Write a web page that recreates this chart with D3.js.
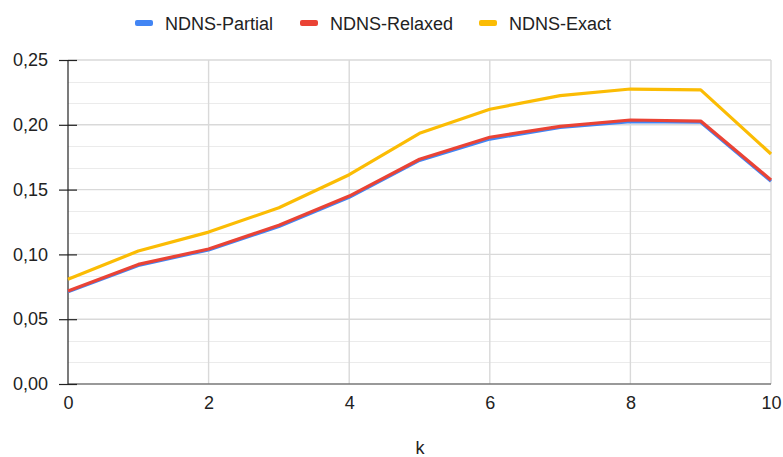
<!DOCTYPE html>
<html>
<head>
<meta charset="utf-8">
<script src="https://cdn.jsdelivr.net/npm/d3@7"></script>
<style>
  html, body { margin: 0; padding: 0; background: #fff; }
  svg { display: block; font-family: "Liberation Sans", Arial, sans-serif; }
</style>
</head>
<body>
<svg id="chart" width="783" height="457"></svg>
<script>
const kValues = [0, 1, 2, 3, 4, 5, 6, 7, 8, 9, 10];
const partial = [0.0712, 0.0915, 0.1035, 0.1215, 0.1440, 0.1725, 0.1890, 0.1980, 0.2025, 0.2020, 0.1565];
const relaxed = [0.0718, 0.0923, 0.1042, 0.1225, 0.1450, 0.1734, 0.1904, 0.1988, 0.2037, 0.2029, 0.1574];
const exact   = [0.0808, 0.1026, 0.1172, 0.1360, 0.1615, 0.1934, 0.2120, 0.2225, 0.2276, 0.2269, 0.1775];
const seriesNames = ["NDNS-Partial", "NDNS-Relaxed", "NDNS-Exact"];
const seriesColors = ["#4285F4", "#EA4335", "#FBBC04"];
const yTicks = [0, 0.05, 0.10, 0.15, 0.20, 0.25];
const xTicks = [0, 2, 4, 6, 8, 10];
const xTitle = "k";

const series = [partial, relaxed, exact];
const svg = d3.select("#chart");
const m = { left: 68, right: 771, top: 60, bottom: 384 };

const x = d3.scaleLinear().domain([0, 10]).range([m.left, m.right]);
const y = d3.scaleLinear().domain([0, 0.25]).range([m.bottom, m.top]);
const fmt = v => d3.format(".2f")(v).replace(".", ",");

// minor horizontal gridlines
const minor = [];
for (let i = 0; i < 15; i++) { if (i % 3 !== 0) minor.push(i * 0.05 / 3); }
svg.append("g").selectAll("line").data(minor).join("line")
  .attr("x1", m.left).attr("x2", m.right)
  .attr("y1", d => Math.round(y(d)) + 0.5).attr("y2", d => Math.round(y(d)) + 0.5)
  .attr("stroke", "#ebebeb").attr("stroke-width", 1.2);

// major horizontal gridlines
svg.append("g").selectAll("line").data(yTicks.slice(1)).join("line")
  .attr("x1", m.left).attr("x2", m.right)
  .attr("y1", d => y(d)).attr("y2", d => y(d))
  .attr("stroke", "#d9d9d9").attr("stroke-width", 1.4);

// vertical gridlines
svg.append("g").selectAll("line").data(xTicks.slice(1)).join("line")
  .attr("x1", d => x(d)).attr("x2", d => x(d))
  .attr("y1", m.top).attr("y2", m.bottom)
  .attr("stroke", "#d9d9d9").attr("stroke-width", 1.4);

// x baseline
svg.append("line")
  .attr("x1", m.left).attr("x2", m.right)
  .attr("y1", m.bottom).attr("y2", m.bottom)
  .attr("stroke", "#777").attr("stroke-width", 1.6);

// y axis with crossing ticks
const yAxis = d3.axisLeft(y).tickValues(yTicks).tickFormat(fmt).tickSize(9).tickPadding(11);
const gy = svg.append("g").attr("transform", `translate(${m.left},0)`).call(yAxis);
gy.select(".domain").remove();
gy.selectAll(".tick line").attr("x1", -9).attr("x2", 9).attr("stroke", "#222").attr("stroke-width", 1.2);
gy.selectAll(".tick text").attr("font-size", 18).attr("fill", "#222")
  .attr("font-family", "'Liberation Sans', Arial, sans-serif");
svg.append("line")
  .attr("x1", m.left).attr("x2", m.left).attr("y1", m.top).attr("y2", m.bottom)
  .attr("stroke", "#222").attr("stroke-width", 1.2);

// x axis labels
const xAxis = d3.axisBottom(x).tickValues(xTicks).tickFormat(d3.format("d")).tickSize(0).tickPadding(12);
const gx = svg.append("g").attr("transform", `translate(0,${m.bottom})`).call(xAxis);
gx.select(".domain").remove();
gx.selectAll(".tick text").attr("font-size", 18).attr("fill", "#222")
  .attr("font-family", "'Liberation Sans', Arial, sans-serif");

svg.append("text").attr("x", 420).attr("y", 454).attr("text-anchor", "middle")
  .attr("font-size", 18).attr("fill", "#222").text(xTitle);

// lines
const line = d3.line().x((d, i) => x(kValues[i])).y(d => y(d));
series.forEach((s, i) => {
  svg.append("path").datum(s)
    .attr("d", line)
    .attr("fill", "none")
    .attr("stroke", seriesColors[i])
    .attr("stroke-width", 3.2)
    .attr("stroke-linejoin", "round");
});

// legend
const legendX = [135, 300, 479];
const lg = svg.append("g");
seriesNames.forEach((n, i) => {
  lg.append("rect").attr("x", legendX[i]).attr("y", 20).attr("width", 18).attr("height", 6)
    .attr("rx", 2).attr("fill", seriesColors[i]);
  lg.append("text").attr("x", legendX[i] + 30).attr("y", 29.5)
    .attr("font-size", 18).attr("fill", "#222").text(n);
});
</script>
</body>
</html>
